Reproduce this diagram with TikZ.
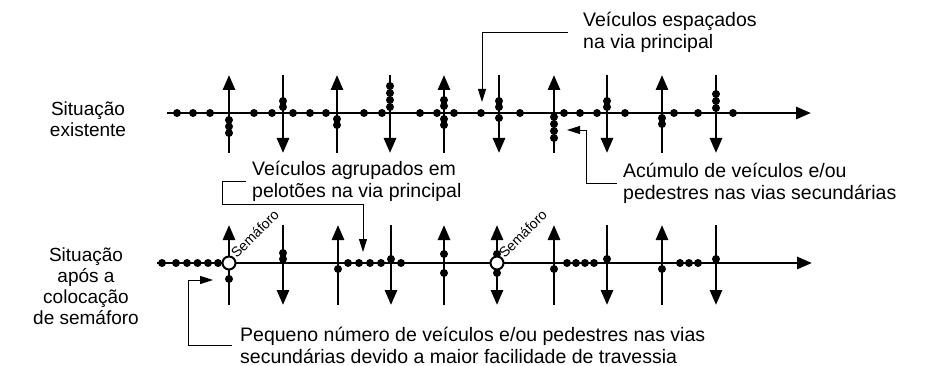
\documentclass[tikz,border=0pt]{standalone}
\usepackage{fontspec}
\setmainfont{Liberation Sans}
\usetikzlibrary{arrows.meta, calc, positioning}
\tikzset{>={Triangle[length=15pt,width=12pt]}}
\tikzset{
  via/.style={line width=2.8pt},
  sinal/.style={circle, draw, line width=2pt, fill=white, minimum size=13pt, inner sep=0pt},
  titulo/.style={align=center, inner sep=0pt, font=\fontsize{19}{21}\selectfont},
  rotulo/.style={align=left, anchor=west, inner sep=0pt, font=\fontsize{19.5}{22}\selectfont},
  semaf/.style={rotate=45, anchor=south west, inner sep=0pt, font=\fontsize{14}{14}\selectfont},
  guia/.style={line width=0.9pt, -{Triangle[length=13pt,width=8pt]}},
}

\begin{document}
\begin{tikzpicture}[x=1pt,y=-1pt]
	\useasboundingbox (0,0) rectangle (926,366);

	% situacao existente
	\node [titulo] (exist) at (88,119) {Situação\\existente};
	\draw [via,->] (167,113) -- (811,113);
	\foreach \x in {229,337,444,554,662} \draw [via,->] (\x,153) -- (\x,75);
	\foreach \x in {283,390,499,607,716} \draw [via,->] (\x,75) -- (\x,153);
	\foreach \x in {177,193,210,254,272,293,310,326,364,382,420,437,454,481,520,564,580,597,625,674,698,733}
		\fill (\x,113) circle [radius=4pt];
	\foreach \x/\y in {229/120,229/126.5,229/133, 283/101,283/107, 337/119,337/125,
		390/86,390/93,390/100,390/107, 444/100,444/106,444/119,444/125, 499/101,499/107,499/118,
		554/117,554/124,554/131,554/138, 607/101,607/107, 662/118,662/124, 716/94,716/101,716/108}
		\fill (\x,\y) circle [radius=4pt];

	% situacao apos o semaforo
	\node [titulo] (apos) at (86,286) {Situação\\após a\\colocação\\de semáforo};
	\draw [via,->] (157,263) -- (812,263);
	\draw [via,->] (229,305) -- (229,225);
	\draw [via,->] (497,263) -- (497,225);
	\draw [via,->] (497,263) -- (497,305);
	\foreach \x in {338,444,554,662} \draw [via,->] (\x,305) -- (\x,225);
	\foreach \x in {283,391,607,716} \draw [via,->] (\x,225) -- (\x,305);
	\foreach \x in {162,176,187,197.5,208,218, 348,359,370,381,401, 567,576,585,594, 680,689,698}
		\fill (\x,263) circle [radius=4pt];
	\foreach \x/\y in {229/279, 283/253,283/259, 338/269, 391/259, 444/254,444/273,
		497/254,497/273, 554/269, 607/259, 662/269, 716/259}
		\fill (\x,\y) circle [radius=4pt];
	\node [sinal] (s1) at (229,263) {};
	\node [sinal] (s2) at (497,263) {};
	\node [semaf] (sem1) at ($(s1)+(8,-4)$) {Semáforo};
	\node [semaf] (sem2) at ($(s2)+(8,-4)$) {Semáforo};

	% chamadas
	\node [rotulo] (espac) at (583,32) {Veículos espaçados\\na via principal};
	\coordinate (alvo1) at (482,102);
	\draw [guia] ($(espac.west)+(-15,0)$) -| (alvo1);

	\node [rotulo] (acum) at (623,183) {Acúmulo de veículos e/ou\\pedestres nas vias secundárias};
	\coordinate (alvo2) at (567,130);
	\draw [guia] ($(acum.west)+(-6,0)$) -- ++(-31,0) |- (alvo2);

	\node [rotulo] (agrup) at (252,181) {Veículos agrupados em\\pelotões na via principal};
	\coordinate (alvo3) at (363,252);
	\draw [guia] ($(agrup.west)+(-6,0)$) -- ++(-24,0) -- ++(0,23) -| (alvo3);

	\node [rotulo] (peq) at (240,345) {Pequeno número de veículos e/ou pedestres nas vias\\secundárias devido a maior facilidade de travessia};
	\coordinate (alvo4) at (213,280);
	\draw [guia] ($(peq.west)+(-8,0)$) -- ++(-44,0) |- (alvo4);
\end{tikzpicture}
\end{document}
